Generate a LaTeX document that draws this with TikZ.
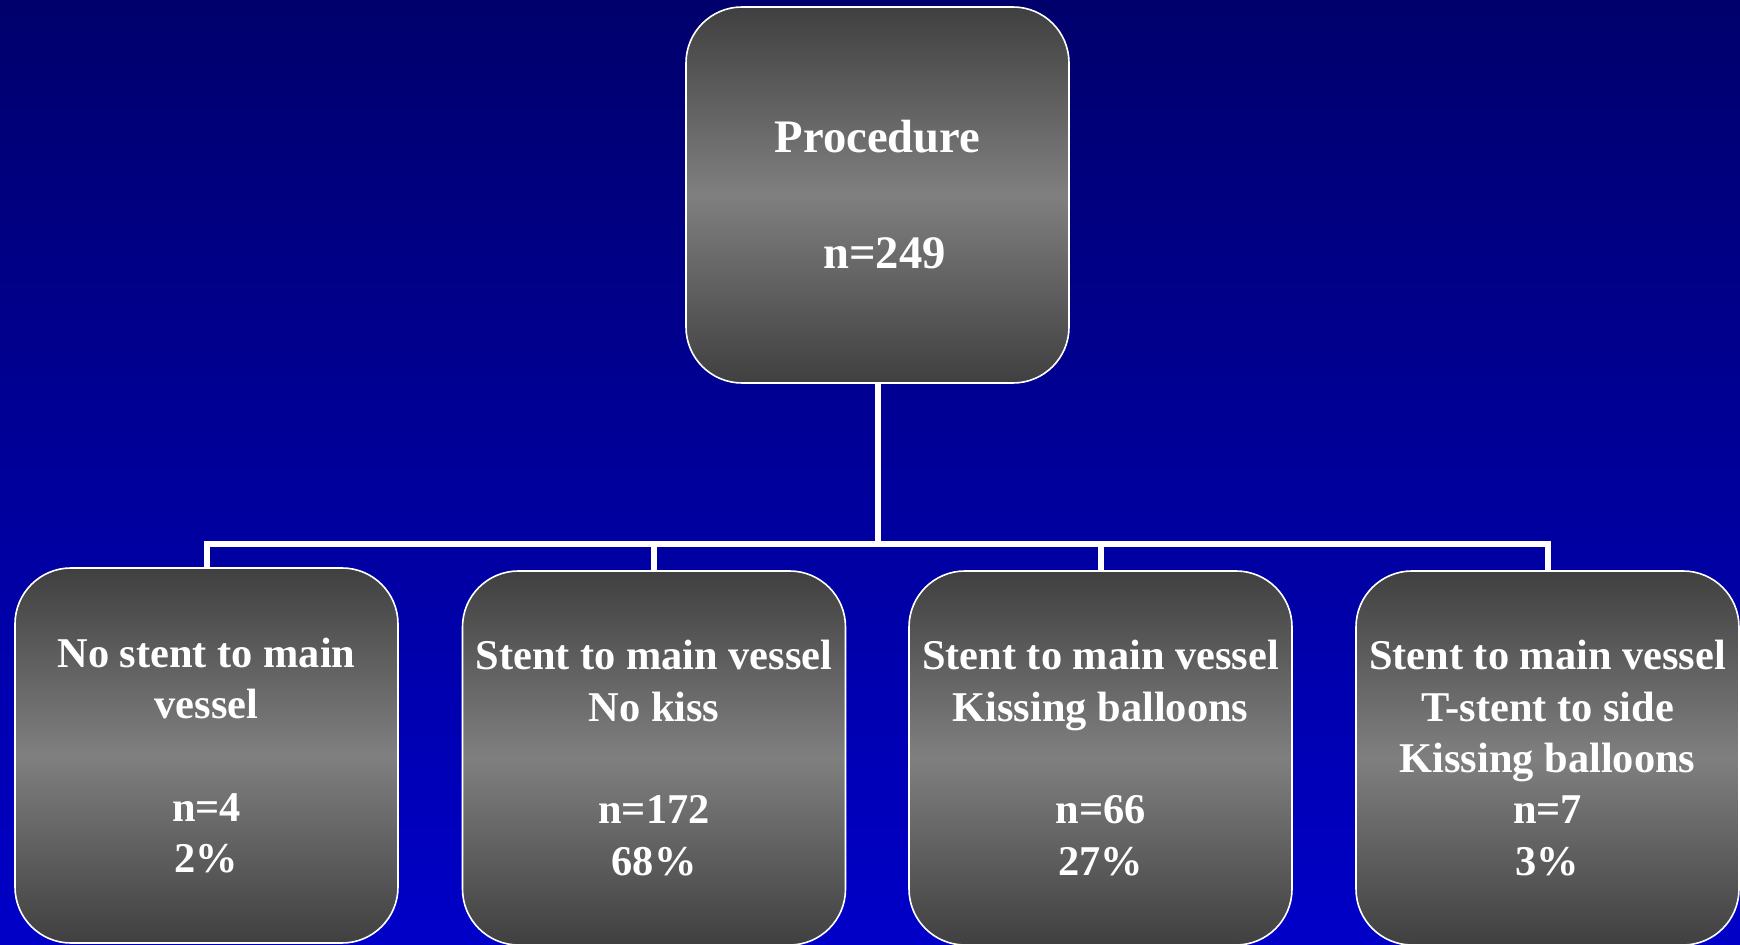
\documentclass[tikz,border=0pt]{standalone}
\usepackage{fontspec}
\setmainfont{Liberation Serif}
\begin{document}
\begin{tikzpicture}[x=0.5pt,y=-0.5pt,
  box/.style={draw=white, line width=0.8pt, rounded corners=28pt,
    top color=black!75, bottom color=black!75, middle color=black!50,
    minimum width=191.5pt, minimum height=188pt, inner sep=0pt,
    align=center, text=white},
  smalltxt/.style={font=\fontsize{21.2pt}{25.7pt}\selectfont\bfseries},
  bigtxt/.style={font=\fontsize{23.3pt}{29pt}\selectfont\bfseries},
  conn/.style={draw=white, line width=3pt}]
\useasboundingbox (0,0) rectangle (1740,945);
\shade[top color={rgb,255:red,0;green,0;blue,108}, bottom color={rgb,255:red,0;green,0;blue,200}] (0,0) rectangle (1740,945);
\node[box, bigtxt, minimum height=188pt] (top) at (877.5,195) {Procedure\\\strut\\\hspace*{7pt}n=249};
\node[box, smalltxt, minimum height=187.5pt] (b1) at (206.5,755.5) {No stent to main\\vessel\\\strut\\n=4\\2\%};
\node[box, smalltxt, minimum height=187pt] (b2) at (654,758) {Stent to main vessel\\No kiss\\\strut\\n=172\\68\%};
\node[box, smalltxt, minimum height=187pt] (b3) at (1100.5,758) {Stent to main vessel\\Kissing balloons\\\strut\\n=66\\27\%};
\node[box, smalltxt, minimum height=187pt] (b4) at (1547.5,758) {Stent to main vessel\\T-stent to side\\Kissing balloons\\n=7\\3\%};
\coordinate (j) at (877.5,544);
\draw[conn] (top.south) -- (j);
\draw[conn] (j) -| (b1.north);
\draw[conn] (j) -| (b2.north);
\draw[conn] (j) -| (b3.north);
\draw[conn] (j) -| (b4.north);
\end{tikzpicture}
\end{document}
